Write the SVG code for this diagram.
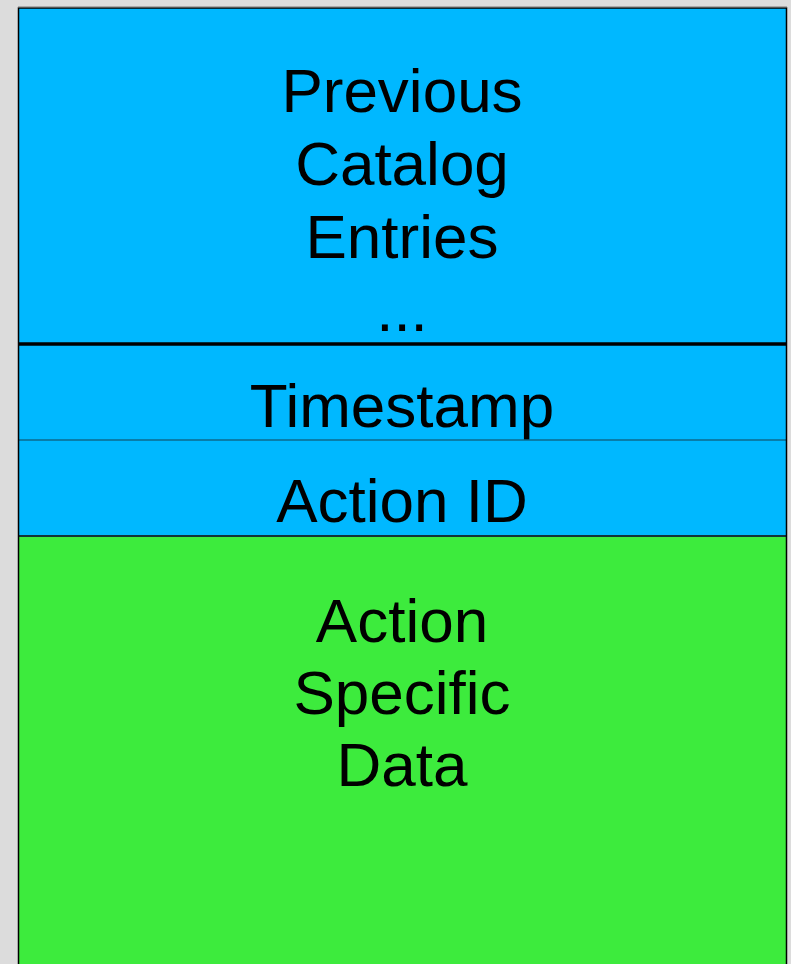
<svg xmlns="http://www.w3.org/2000/svg" width="791" height="964" viewBox="0 0 791 964">
<style>
text{font-family:"Liberation Sans",Arial,sans-serif;font-size:62px;fill:#000;text-anchor:middle}
</style>
<rect x="0" y="0" width="791" height="964" fill="#dcdcdc"/>
<g id="previous">
<rect x="18.5" y="8" width="768" height="336" fill="#00b8ff"/>
<text x="402" y="112">Previous</text>
<text x="402" y="185">Catalog</text>
<text x="402" y="258">Entries</text>
<text x="402" y="331">...</text>
</g>
<g id="timestamp">
<rect x="18.5" y="344" width="768" height="96" fill="#00b8ff"/>
<text x="402" y="427">Timestamp</text>
</g>
<g id="actionid">
<rect x="18.5" y="440" width="768" height="96" fill="#00b8ff"/>
<text x="402" y="522">Action ID</text>
</g>
<g id="actiondata">
<rect x="18.5" y="536" width="768" height="430" fill="#3deb3d"/>
<text x="402" y="642">Action</text>
<text x="402" y="714">Specific</text>
<text x="402" y="786">Data</text>
</g>
<g id="connectors">
<line x1="18" y1="344" x2="787" y2="344" stroke="#000" stroke-width="3.5"/>
<line x1="18" y1="440" x2="787" y2="440" stroke="#0d6a8c" stroke-width="1.5"/>
<line x1="18" y1="536" x2="787" y2="536" stroke="#12333a" stroke-width="1.8"/>
<path d="M18.5 968 V8 H786.5 V968" fill="none" stroke="#000" stroke-width="1.5"/>
<line x1="18" y1="7" x2="787" y2="7" stroke="#777" stroke-width="1"/>
</g>
</svg>
